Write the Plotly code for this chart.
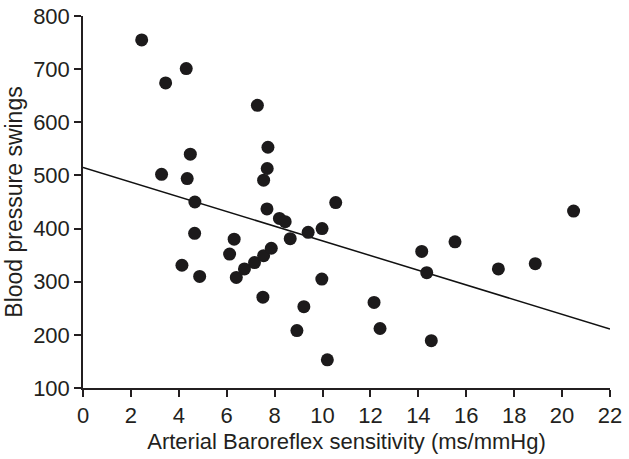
import plotly.graph_objects as go

# Arterial baroreflex sensitivity (ms/mmHg)
brs = [2.45, 3.45, 4.31, 7.28, 7.72, 4.48, 3.28, 4.35, 7.69, 7.54,
       4.67, 7.68, 8.20, 8.44, 9.40, 9.98, 15.53, 14.14, 14.35, 17.34,
       18.88, 9.97, 12.15, 9.22, 12.40, 14.54, 10.20, 8.93, 10.55, 20.48,
       4.66, 4.13, 4.87, 6.31, 6.12, 6.40, 6.74, 7.16, 7.54, 7.86,
       7.51, 8.65]
# Blood pressure swings
bps = [755, 674, 701, 632, 553, 540, 502, 494, 513, 491,
       450, 437, 419, 413, 393, 400, 375, 357, 317, 324,
       334, 305, 261, 253, 212, 189, 153, 208, 449, 433,
       391, 331, 310, 380, 352, 308, 324, 336, 349, 363,
       271, 381]

# Regression line end points
line_x = [0, 22]
line_y = [515, 211]

x_ticks = list(range(0, 23, 2))
y_ticks = list(range(100, 801, 100))

fig = go.Figure()
fig.add_trace(go.Scatter(x=line_x, y=line_y, mode="lines",
                         line=dict(color="#111111", width=1.5),
                         hoverinfo="skip", cliponaxis=False))
fig.add_trace(go.Scatter(x=brs, y=bps, mode="markers",
                         marker=dict(size=13, color="#1c1a1b", line=dict(width=0)),
                         cliponaxis=False))

family = "Liberation Sans, Arial, Helvetica, sans-serif"
ink = "#231f20"
fig.update_layout(
    width=629, height=459,
    margin=dict(l=83, r=19, t=16, b=71),
    paper_bgcolor="white", plot_bgcolor="white",
    showlegend=False,
    font=dict(family=family, size=22, color=ink),
)
fig.update_xaxes(range=[0, 22], tickvals=x_ticks, ticks="outside", ticklen=7, tickwidth=1.5,
                 tickcolor=ink, showline=True, linecolor=ink, linewidth=1.5,
                 showgrid=False, zeroline=False, automargin=False,
                 title_text="Arterial Baroreflex sensitivity (ms/mmHg)",
                 title_standoff=6, title_font_size=22,
                 tickfont_size=22)
fig.update_yaxes(range=[100, 800], tickvals=y_ticks, ticks="outside", ticklen=7, tickwidth=1.5,
                 tickcolor=ink, showline=True, linecolor=ink, linewidth=1.5,
                 showgrid=False, zeroline=False, automargin=False,
                 title_text="Blood pressure swings",
                 title_standoff=4, title_font_size=23,
                 tickfont_size=22)

fig.write_html("out.html", config={"displayModeBar": False},
               post_script="document.body.style.margin='0px';")
